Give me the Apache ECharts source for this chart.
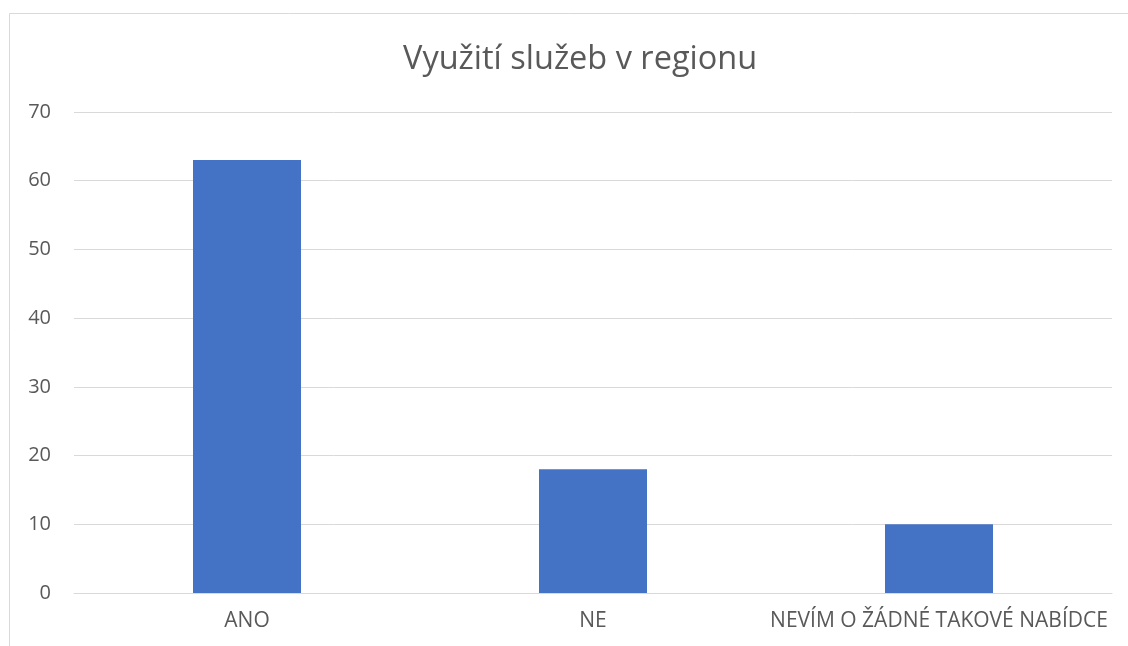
<!DOCTYPE html>
<html>
<head>
<meta charset="utf-8">
<script src="https://cdn.jsdelivr.net/npm/echarts@6/dist/echarts.min.js"></script>
<style>
html,body{margin:0;padding:0;background:#fff;}
#chart{width:1128px;height:646px;}
</style>
</head>
<body>
<div id="chart"></div>
<script>
const categories = ["ANO", "NE", "NEVÍM O ŽÁDNÉ TAKOVÉ NABÍDCE"];
const values = [63, 18, 10];
const titleText = "Využití služeb v regionu";

const chart = echarts.init(document.getElementById('chart'));
chart.setOption({
  animation: false,
  backgroundColor: '#ffffff',
  graphic: [{
    type: 'rect',
    shape: {x: 9.5, y: 13.5, width: 1130, height: 650},
    style: {fill: 'none', stroke: '#d9d9d9', lineWidth: 1},
    silent: true
  }],
  title: {
    text: titleText,
    left: 398,
    top: 38,
    textStyle: {fontFamily: 'Open Sans', fontSize: 32.5, fontWeight: 'normal', color: '#595959'}
  },
  grid: {left: 74, right: 16, top: 112, bottom: 53, containLabel: false},
  xAxis: {
    type: 'category',
    data: categories,
    axisLine: {lineStyle: {color: '#d9d9d9', width: 1}},
    axisTick: {show: false},
    axisLabel: {color: '#595959', fontFamily: 'Open Sans', fontSize: 21, margin: 18, interval: 0}
  },
  yAxis: {
    type: 'value',
    min: 0, max: 70, interval: 10,
    axisLine: {show: false},
    axisTick: {show: false},
    splitLine: {lineStyle: {color: '#d9d9d9', width: 1}},
    axisLabel: {color: '#595959', fontFamily: 'Open Sans', fontSize: 20, margin: 23}
  },
  series: [{
    type: 'bar',
    data: values,
    barWidth: 108,
    itemStyle: {color: '#4472C4'}
  }]
});
</script>
</body>
</html>
